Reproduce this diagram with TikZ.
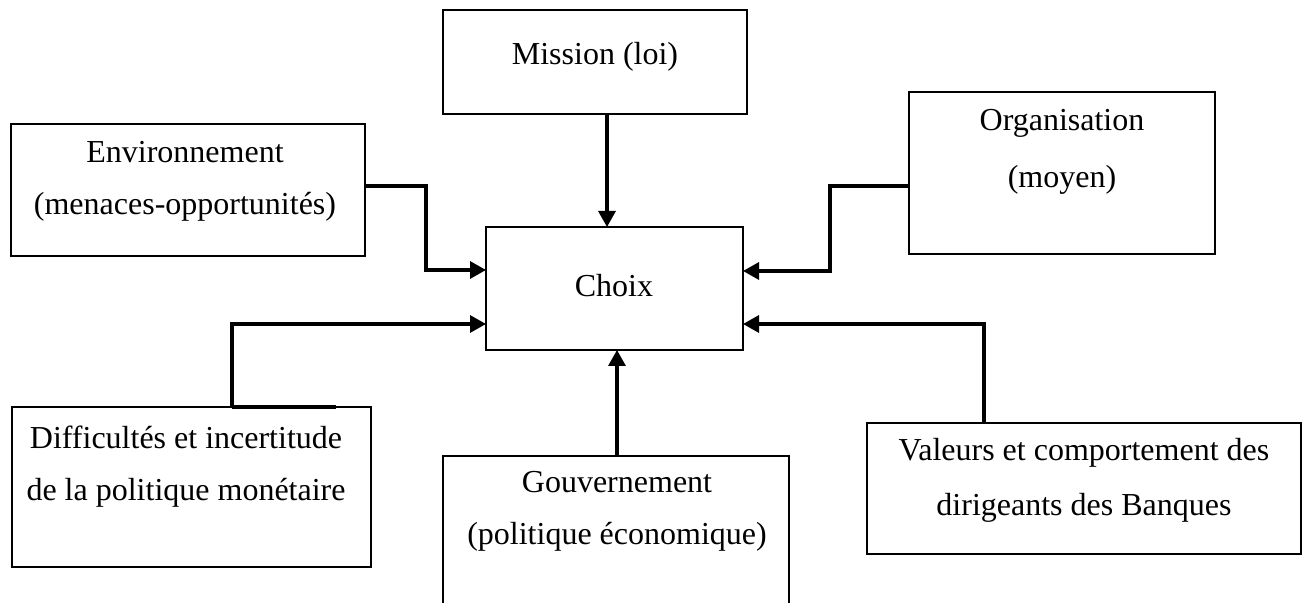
\documentclass[tikz,border=0pt]{standalone}
\usepackage{fontspec}
\setmainfont{Liberation Serif}
\usetikzlibrary{arrows.meta}
\begin{document}
\begin{tikzpicture}[x=0.5pt,y=-0.5pt,
  box/.style={draw, line width=0.6pt, inner sep=0pt, outer sep=0pt},
  txt/.style={align=center, inner sep=0pt, anchor=north, font=\fontsize{16}{26}\selectfont},
  conn/.style={line width=1.6pt, -{Triangle[length=8pt,width=8.5pt]}},
  thickline/.style={line width=1.6pt}]
\useasboundingbox (0,0) rectangle (1306,603);
\clip (0,0) rectangle (1306,603);
% boxes
\node[box, minimum width=152pt, minimum height=52pt] (mission) at (595,62) {};
\node[box, minimum width=177pt, minimum height=66pt] (env) at (188,190) {};
\node[box, minimum width=153pt, minimum height=81pt] (org) at (1062,173) {};
\node[box, minimum width=128.5pt, minimum height=61.5pt] (choix) at (614.5,288.5) {};
\node[box, minimum width=179.5pt, minimum height=80pt] (diff) at (191.5,487) {};
\node[box, minimum width=173pt, minimum height=82pt] (gouv) at (616,538) {};
\node[box, minimum width=217pt, minimum height=65.5pt] (val) at (1084,488.5) {};
% texts
\node[txt] (missiont) at (595,42) {Mission (loi)};
\node[txt] (envt) at (185,141) {Environnement\\(menaces-opportunités)};
\node[txt, font=\fontsize{16}{28.5}\selectfont] (orgt) at (1062,109) {Organisation\\(moyen)};
\node[txt] (choixt) at (614,274) {Choix};
\node[txt] (difft) at (186,426) {Difficultés et incertitude\\de la politique monétaire};
\node[txt] (gouvt) at (617,471) {Gouvernement\\(politique économique)};
\node[txt, font=\fontsize{16}{27.5}\selectfont] (valt) at (1084,438) {Valeurs et comportement des\\dirigeants des Banques};
% bend coordinates
\coordinate (mx) at (607,0);
\coordinate (gx) at (617,0);
\coordinate (e1) at (426,186);
\coordinate (e2) at (426,270);
\coordinate (o1) at (830,186);
\coordinate (o2) at (830,271);
\coordinate (d0) at (232,0);
\coordinate (d3) at (336,0);
\coordinate (d1) at (232,324);
\coordinate (v1) at (984,324);
% connectors
\draw[conn] (mission.south -| mx) -- (choix.north -| mx);
\draw[conn] (env.east |- e1) -- (e1) -- (e2) -- (choix.west |- e2);
\draw[conn] (org.west |- o1) -- (o1) -- (o2) -- (choix.east |- o2);
\draw[thickline] (diff.north -| d0) -- (diff.north -| d3);
\draw[conn] (diff.north -| d0) -- (d1) -- (choix.west |- d1);
\draw[conn] (gouv.north -| gx) -- (choix.south -| gx);
\draw[conn] (val.north -| v1) -- (v1) -- (choix.east |- v1);
\end{tikzpicture}
\end{document}
